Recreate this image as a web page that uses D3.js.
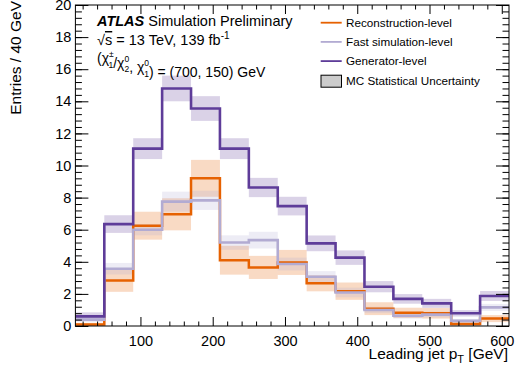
<!DOCTYPE html>
<html>
<head>
<meta charset="utf-8">
<script src="https://cdn.jsdelivr.net/npm/d3@7"></script>
<style>
  html, body { margin: 0; padding: 0; background: #fff; }
  svg { display: block; font-family: "Liberation Sans", Arial, Helvetica, sans-serif; }
</style>
</head>
<body>
<svg id="chart" width="515" height="370"></svg>
<script>
// Leading jet pT bins (GeV), 40 GeV wide
const binEdges = [10, 50, 90, 130, 170, 210, 250, 290, 330, 370, 410, 450, 490, 530, 570, 610];

// Reconstruction-level entries and MC statistical uncertainty
const recoValues = [0.10, 2.83, 6.25, 6.96, 9.20, 4.10, 3.65, 3.96, 2.66, 2.17, 1.08, 0.82, 0.79, 0.12, 0.46];
const recoErrors = [0.10, 0.70, 0.87, 1.00, 1.15, 0.90, 0.72, 0.78, 0.50, 0.54, 0.40, 0.32, 0.33, 0.10, 0.22];

// Fast simulation-level entries and uncertainty
const fastValues = [0.40, 3.57, 6.00, 7.75, 7.83, 5.20, 5.35, 3.86, 3.07, 2.09, 1.00, 0.64, 0.71, 0.32, 1.16];
const fastErrors = [0.15, 0.36, 0.35, 0.62, 0.60, 0.45, 0.52, 0.40, 0.35, 0.30, 0.20, 0.18, 0.18, 0.12, 0.22];

// Generator-level entries and uncertainty
const genValues = [0.60, 6.35, 11.05, 14.80, 13.55, 11.05, 8.63, 7.47, 5.15, 4.26, 2.45, 1.69, 1.41, 0.79, 1.87];
const genErrors = [0.25, 0.55, 0.65, 0.80, 0.77, 0.65, 0.60, 0.58, 0.49, 0.45, 0.35, 0.30, 0.28, 0.20, 0.31];

// Axis ticks
const xMajorTicks = [100, 200, 300, 400, 500, 600];
const xMinorTicks = [20, 40, 60, 80, 120, 140, 160, 180, 220, 240, 260, 280, 320, 340, 360, 380,
                     420, 440, 460, 480, 520, 540, 560, 580];
const yMajorTicks = [0, 2, 4, 6, 8, 10, 12, 14, 16, 18, 20];
const yMinorTicks = d3.range(0, 20.001, 0.4).map(v => +v.toFixed(1));

const legendLabels = ["Reconstruction-level", "Fast simulation-level", "Generator-level", "MC Statistical Uncertainty"];

const colors = { reco: "#e66101", fast: "#b2abd2", gen: "#5e3c99" };

const svg = d3.select("#chart");
const plot = { left: 75.4, right: 509, top: 5, bottom: 326 };

const x = d3.scaleLinear().domain([10, 610]).range([plot.left, plot.right]);
const y = d3.scaleLinear().domain([0, 20]).range([plot.bottom, plot.top]);

svg.append("defs").append("clipPath").attr("id", "plotClip")
  .append("rect")
  .attr("x", plot.left).attr("y", plot.top)
  .attr("width", plot.right - plot.left).attr("height", plot.bottom - plot.top);

const series = [
  { key: "reco", values: recoValues, errors: recoErrors, width: 2.5 },
  { key: "fast", values: fastValues, errors: fastErrors, width: 2.6 },
  { key: "gen",  values: genValues,  errors: genErrors,  width: 2.6 }
];

const bins = d3.range(binEdges.length - 1);
const plotArea = svg.append("g").attr("clip-path", "url(#plotClip)");

// uncertainty bands
series.forEach(s => {
  plotArea.append("g").selectAll("rect").data(bins).join("rect")
    .attr("x", i => x(binEdges[i]))
    .attr("width", i => x(binEdges[i + 1]) - x(binEdges[i]))
    .attr("y", i => y(s.values[i] + s.errors[i]))
    .attr("height", i => y(Math.max(0, s.values[i] - s.errors[i])) - y(s.values[i] + s.errors[i]))
    .attr("fill", colors[s.key])
    .attr("fill-opacity", 0.23);
});

// histogram outlines
const step = d3.line().x(d => x(d[0])).y(d => y(d[1])).curve(d3.curveStepAfter);
series.forEach(s => {
  const pts = binEdges.map((e, i) => [e, s.values[Math.min(i, s.values.length - 1)]]);
  plotArea.append("path")
    .attr("d", step(pts))
    .attr("fill", "none")
    .attr("stroke", colors[s.key])
    .attr("stroke-width", s.width);
});

// axes (ROOT style: ticks inside on all four sides)
function styleAxis(g) {
  g.select(".domain").remove();
  g.selectAll(".tick line").attr("stroke", "#000").attr("stroke-width", 1);
  g.selectAll(".tick text").attr("fill", "#000").attr("font-size", 14.5)
    .attr("font-family", "Liberation Sans, Arial, sans-serif");
}

svg.append("g").attr("transform", `translate(0,${plot.bottom})`)
  .call(d3.axisBottom(x).tickValues(xMinorTicks).tickSize(-4.5).tickFormat(""))
  .call(styleAxis);
svg.append("g").attr("transform", `translate(0,${plot.bottom})`)
  .call(d3.axisBottom(x).tickValues(xMajorTicks).tickSize(-9).tickPadding(9.5).tickFormat(d3.format("d")))
  .call(styleAxis);
svg.append("g").attr("transform", `translate(0,${plot.top})`)
  .call(d3.axisTop(x).tickValues(xMinorTicks).tickSize(-4.5).tickFormat(""))
  .call(styleAxis);
svg.append("g").attr("transform", `translate(0,${plot.top})`)
  .call(d3.axisTop(x).tickValues(xMajorTicks).tickSize(-9).tickFormat(""))
  .call(styleAxis);

svg.append("g").attr("transform", `translate(${plot.left},0)`)
  .call(d3.axisLeft(y).tickValues(yMinorTicks).tickSize(-6.5).tickFormat(""))
  .call(styleAxis);
svg.append("g").attr("transform", `translate(${plot.left},0)`)
  .call(d3.axisLeft(y).tickValues(yMajorTicks).tickSize(-13).tickPadding(4).tickFormat(d3.format("d")))
  .call(styleAxis);
svg.append("g").attr("transform", `translate(${plot.right},0)`)
  .call(d3.axisRight(y).tickValues(yMinorTicks).tickSize(-6.5).tickFormat(""))
  .call(styleAxis);
svg.append("g").attr("transform", `translate(${plot.right},0)`)
  .call(d3.axisRight(y).tickValues(yMajorTicks).tickSize(-13).tickFormat(""))
  .call(styleAxis);

svg.append("rect")
  .attr("x", plot.left).attr("y", plot.top)
  .attr("width", plot.right - plot.left).attr("height", plot.bottom - plot.top)
  .attr("fill", "none").attr("stroke", "#000").attr("stroke-width", 1);

// axis titles
svg.append("text")
  .attr("transform", "rotate(-90)")
  .attr("x", -1).attr("y", 20.5)
  .attr("text-anchor", "end")
  .attr("font-size", 15.5)
  .text("Entries / 40 GeV");

const xTitle = svg.append("text")
  .attr("x", 508).attr("y", 359)
  .attr("text-anchor", "end")
  .attr("font-size", 15.5);
xTitle.append("tspan").text("Leading jet p");
xTitle.append("tspan").attr("dy", 4).attr("font-size", 11).text("T");
xTitle.append("tspan").attr("dy", -4).text(" [GeV]");

// ATLAS label block
const t1 = svg.append("text").attr("x", 97).attr("y", 26).attr("font-size", 14.5);
t1.append("tspan").attr("font-weight", "bold").attr("font-style", "italic").text("ATLAS");
t1.append("tspan").text(" Simulation Preliminary");

const t2 = svg.append("text").attr("x", 97).attr("y", 45).attr("font-size", 14.5);
t2.append("tspan").text("√");
t2.append("tspan").attr("text-decoration", "overline").text("s");
t2.append("tspan").text(" = 13 TeV, 139 fb");
t2.append("tspan").attr("dy", -6).attr("font-size", 10).text("-1");

const t3 = svg.append("text").attr("x", 97).attr("y", 63).attr("font-size", 14);
function chiSym(parent, sup, sub, lead) {
  parent.append("tspan").text(lead + "χ");
  parent.append("tspan").attr("dy", -6).attr("font-size", 8.5).text(sup);
  parent.append("tspan").attr("dx", sup === "±" ? -5.2 : -4.8).attr("dy", 10.5).attr("font-size", 8.5).text(sub);
  parent.append("tspan").attr("dy", -4.5).text("");
}
chiSym(t3, "±", "1", "(");
t3.append("tspan").text("/");
chiSym(t3, "0", "2", "");
t3.append("tspan").text(", ");
chiSym(t3, "0", "1", "");
t3.append("tspan").text(") = (700, 150) GeV");

// legend
const legend = svg.append("g").attr("font-size", 11.7);
const legendKeys = ["reco", "fast", "gen"];
const legendY = [22.7, 41.9, 61.1, 81.2];
legendKeys.forEach((k, i) => {
  legend.append("line")
    .attr("x1", 320.7).attr("x2", 341.7)
    .attr("y1", legendY[i]).attr("y2", legendY[i])
    .attr("stroke", colors[k]).attr("stroke-width", 1.8);
  legend.append("text").attr("x", 346).attr("y", legendY[i] + 4.2).text(legendLabels[i]);
});
legend.append("rect")
  .attr("x", 321).attr("y", legendY[3] - 6)
  .attr("width", 20.5).attr("height", 12)
  .attr("fill", "#cccccc").attr("stroke", "#000").attr("stroke-width", 1);
legend.append("text").attr("x", 346).attr("y", legendY[3] + 4.2).text(legendLabels[3]);
</script>
</body>
</html>
